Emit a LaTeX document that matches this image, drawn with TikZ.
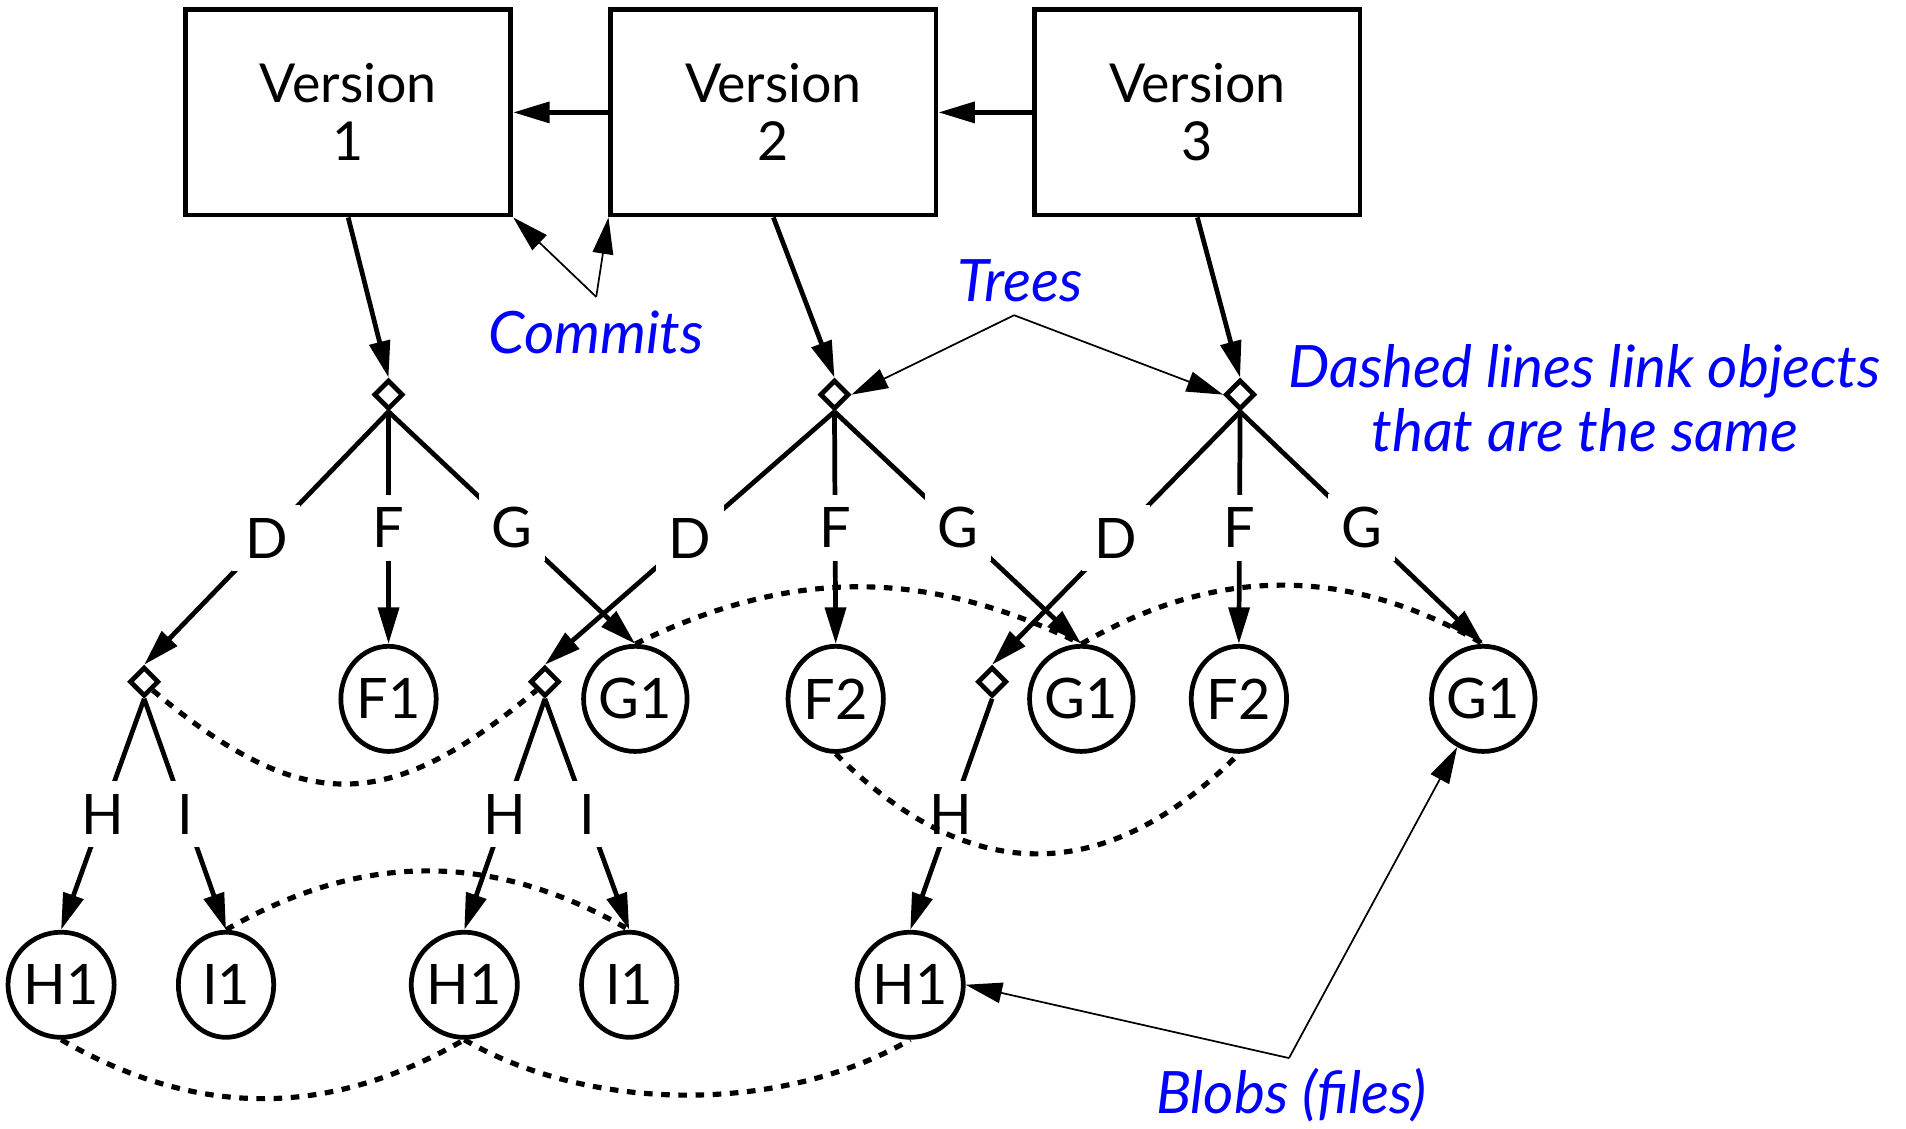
\documentclass[tikz,border=0pt]{standalone}
\usepackage{fontspec}
\setmainfont{Lato}
\usetikzlibrary{arrows.meta,shapes.geometric}

\begin{document}
\begin{tikzpicture}[x=0.01cm,y=0.01cm,line width=1.1pt,
  >={Triangle[length=8.5pt,width=4.8pt]},
  every node/.style={font=\fontsize{13}{11}\selectfont},
  version/.style={draw,rectangle,minimum width=2.66cm,minimum height=1.68cm,align=center,
    font=\fontsize{12.5}{13.5}\selectfont},
  tree/.style={draw,diamond,aspect=1,minimum size=0.24cm,inner sep=0pt},
  blob/.style={draw,ellipse,minimum width=0.78cm,minimum height=0.86cm,inner sep=0pt},
  lbl/.style={fill=white,inner sep=3pt},
  note/.style={text=blue,font=\fontsize{13.6}{14.8}\selectfont\itshape},
  annot/.style={line width=0.4pt,->},
  same/.style={line width=1.2pt,dash pattern=on 2pt off 2pt}]
\useasboundingbox (0,0) rectangle (1560,-924);
% versions
\node[version] (v1) at (285,-92) {Version\\1};
\node[version] (v2) at (633,-92) {Version\\2};
\node[version] (v3) at (980,-92) {Version\\3};
% trees
\node[tree] (t1) at (318,-323) {};
\node[tree] (t2) at (683,-323) {};
\node[tree] (t3) at (1015,-323) {};
\node[tree] (d1) at (118,-558) {};
\node[tree] (d2) at (446,-558) {};
\node[tree] (d3) at (812,-558) {};
% blobs
\node[blob] (f1) at (318,-572) {F1};
\node[blob] (g1) at (520,-572) {G1};
\node[blob] (f2) at (684,-572) {F2};
\node[blob] (g2) at (885,-572) {G1};
\node[blob] (f3) at (1014,-572) {F2};
\node[blob] (g3) at (1214,-572) {G1};
\node[blob] (h1) at (50,-806) {H1};
\node[blob] (i1) at (185,-806) {I1};
\node[blob] (h2) at (380,-806) {H1};
\node[blob] (i2) at (515,-806) {I1};
\node[blob] (h3) at (745,-806) {H1};
% history
\draw[->] (v2) -- (v1);
\draw[->] (v3) -- (v2);
\draw[->] (v1.south) -- (t1.north);
\draw[->] (v2.south) -- (t2.north);
\draw[->] (v3.south) -- (t3.north);
% tree entries
\draw[->] (t1.south) -- node[lbl]{D} (d1.north);
\draw[->] (t1.south) -- node[lbl]{F} (f1.north);
\draw[->] (t1.south) -- node[lbl]{G} (g1.north);
\draw[->] (t2.south) -- node[lbl]{D} (d2.north);
\draw[->] (t2.south) -- node[lbl]{F} (f2.north);
\draw[->] (t2.south) -- node[lbl]{G} (g2.north);
\draw[->] (t3.south) -- node[lbl]{D} (d3.north);
\draw[->] (t3.south) -- node[lbl]{F} (f3.north);
\draw[->] (t3.south) -- node[lbl]{G} (g3.north);
\draw[->] (d1.south) -- node[lbl]{H} (h1.north);
\draw[->] (d1.south) -- node[lbl]{I} (i1.north);
\draw[->] (d2.south) -- node[lbl]{H} (h2.north);
\draw[->] (d2.south) -- node[lbl]{I} (i2.north);
\draw[->] (d3.south) -- node[lbl]{H} (h3.north);
% same objects
\draw[same] (d1.south east) to[out=-40,in=-140,looseness=1.3] (d2.south west);
\draw[same] (g1.north) to[out=26,in=154] (g2.north);
\draw[same] (g2.north) to[out=30,in=150] (g3.north);
\draw[same] (f2.south) to[out=-45,in=-135,looseness=1.2] (f3.south);
\draw[same] (i1.north) to[out=30,in=150] (i2.north);
\draw[same] (h1.south) to[out=-30,in=-150] (h2.south);
\draw[same] (h2.south) to[out=-30,in=-150,looseness=0.85] (h3.south);
% notes
\coordinate (ca) at (488,-243);
\node[note] (commits) at (488,-272) {Commits};
\draw[annot] (ca) -- (v1.south east);
\draw[annot] (ca) -- (v2.south west);
\coordinate (ta) at (830,-258);
\node[note] (trees) at (835,-230) {Trees};
\draw[annot] (ta) -- (t2.east);
\draw[annot] (ta) -- (t3.west);
\node[note,align=center] (dashed) at (1297,-326) {Dashed lines link objects\\that are the same};
\coordinate (ba) at (1055,-866);
\node[note] (blobs) at (1057,-896) {Blobs (files)};
\draw[annot] (ba) -- (h3.east);
\draw[annot] (ba) -- (g3);
\end{tikzpicture}
\end{document}
